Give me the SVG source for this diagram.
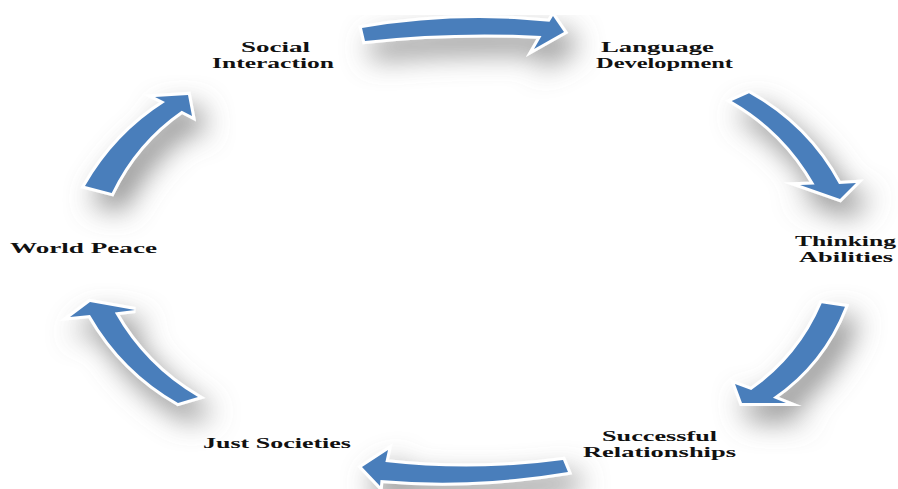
<svg xmlns="http://www.w3.org/2000/svg" width="898" height="489" viewBox="0 0 898 489">
<style>
.arrow{fill:#4a7ebb;stroke:#ffffff;stroke-width:6;stroke-linejoin:miter;stroke-miterlimit:6;paint-order:stroke}
.lbl{font-family:"Liberation Serif","Times New Roman",serif;font-weight:bold;font-size:15px;fill:#111111}
</style>
<defs>
<filter id="shadow" filterUnits="userSpaceOnUse" x="0" y="0" width="898" height="489">
<feGaussianBlur in="SourceAlpha" stdDeviation="14" result="b"/>
<feOffset in="b" dx="10" dy="15" result="o"/>
<feFlood flood-color="#7a7a7a" flood-opacity="0.85"/>
<feComposite in2="o" operator="in" result="s"/>
<feMerge><feMergeNode in="s"/><feMergeNode in="SourceGraphic"/></feMerge>
</filter>
</defs>
<rect x="0" y="0" width="898" height="489" fill="#ffffff"/>
<g id="connectors" filter="url(#shadow)">
<path class="arrow" d="M362,28 Q456.25,12.15 549.5,21.7 L553,16 L564,32 L534,49 L541.5,36 Q452.75,31.5 365,41 Z"/>
<path class="arrow" d="M731.7,101 L749,93.3 Q808,126.1 839,184.1 L856,183 L840,199 L800,185 L814.6,184.6 Q784.6,131.6 731.7,101 Z"/>
<path class="arrow" d="M821.7,303.3 L845,306.7 Q823,363.4 772.9,397.75 L786,403 L742,403 L735,384 L751.2,390.1 Q798.9,356.7 821.7,303.3 Z"/>
<path class="arrow" d="M563,460 Q474,472 385.4,462 L388,450 L362,467 L380,486 L380.5,480 Q473,488 568,472 Z"/>
<path class="arrow" d="M178,403 Q122,371 90,315 L70,317 L90,302 L135,310 L114.8,312.5 Q145,366 198,397 Z"/>
<path class="arrow" d="M85,186 Q115,133.7 165,102 L155,97 L188,95 L192,116 L181.7,110.7 Q136.1,142.3 111.7,193 Z"/>
</g>
<g id="social-interaction">
<text class="lbl" x="241" y="52" textLength="69" lengthAdjust="spacingAndGlyphs">Social</text>
<text class="lbl" x="212" y="68" textLength="122" lengthAdjust="spacingAndGlyphs">Interaction</text>
</g>
<g id="language-development">
<text class="lbl" x="601" y="52" textLength="113" lengthAdjust="spacingAndGlyphs">Language</text>
<text class="lbl" x="596" y="68" textLength="137" lengthAdjust="spacingAndGlyphs">Development</text>
</g>
<g id="thinking-abilities">
<text class="lbl" x="795" y="246" textLength="101" lengthAdjust="spacingAndGlyphs">Thinking</text>
<text class="lbl" x="799" y="262" textLength="94" lengthAdjust="spacingAndGlyphs">Abilities</text>
</g>
<g id="successful-relationships">
<text class="lbl" x="602" y="441" textLength="115" lengthAdjust="spacingAndGlyphs">Successful</text>
<text class="lbl" x="583" y="457" textLength="153" lengthAdjust="spacingAndGlyphs">Relationships</text>
</g>
<g id="just-societies">
<text class="lbl" x="203" y="448" textLength="148" lengthAdjust="spacingAndGlyphs">Just Societies</text>
</g>
<g id="world-peace">
<text class="lbl" x="10" y="253" textLength="147" lengthAdjust="spacingAndGlyphs">World Peace</text>
</g>
</svg>
